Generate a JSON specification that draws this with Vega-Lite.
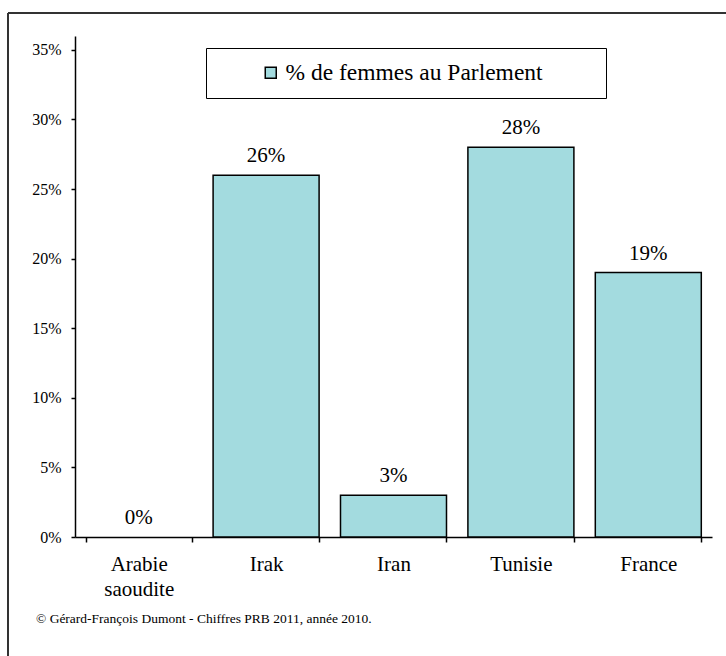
{
  "$schema": "https://vega.github.io/schema/vega-lite/v6.json",
  "autosize": {"type": "none"},
  "padding": {"left": 75, "top": 36, "right": 14, "bottom": 119},
  "width": 637,
  "height": 501,
  "background": "white",
  "config": {
    "view": {"stroke": null},
    "font": "Times New Roman"
  },
  "title": {
    "text": "© Gérard-François Dumont - Chiffres PRB 2011, année 2010.",
    "orient": "bottom",
    "anchor": "start",
    "frame": "group",
    "dx": -39,
    "offset": -45,
    "fontSize": 13.5,
    "fontWeight": "normal",
    "color": "#000000",
    "font": "Times New Roman"
  },
  "data": {
    "values": [
      {"pays": "Arabie saoudite", "valeur": 0.0, "serie": "% de femmes au Parlement"},
      {"pays": "Irak", "valeur": 0.26, "serie": "% de femmes au Parlement"},
      {"pays": "Iran", "valeur": 0.03, "serie": "% de femmes au Parlement"},
      {"pays": "Tunisie", "valeur": 0.28, "serie": "% de femmes au Parlement"},
      {"pays": "France", "valeur": 0.19, "serie": "% de femmes au Parlement"}
    ]
  },
  "resolve": {"scale": {"x": "independent", "y": "independent"}},
  "layer": [
    {
      "layer": [
        {
          "mark": {"type": "bar", "stroke": "#000000", "strokeWidth": 1.5},
          "encoding": {
            "x": {
              "field": "pays", "type": "nominal", "sort": null,
              "scale": {"paddingInner": 0.168, "paddingOuter": 0.084},
              "axis": {
                "title": null,
                "labelAngle": 0,
                "labelFont": "Times New Roman",
                "labelFontSize": 21,
                "labelColor": "#000000",
                "labelPadding": 11,
                "labelLineHeight": 25,
                "labelExpr": "datum.label == 'Arabie saoudite' ? ['Arabie', 'saoudite'] : datum.label",
                "tickBand": "extent",
                "tickSize": 5,
                "tickColor": "#000000",
                "tickWidth": 1.5,
                "domainColor": "#000000",
                "domainWidth": 1.5
              }
            },
            "y": {
              "field": "valeur", "type": "quantitative",
              "scale": {"domain": [0, 0.36], "nice": false},
              "axis": {
                "title": null,
                "values": [0, 0.05, 0.1, 0.15, 0.2, 0.25, 0.3, 0.35],
                "format": ".0%",
                "grid": false,
                "labelFont": "Times New Roman",
                "labelFontSize": 16,
                "labelColor": "#000000",
                "labelPadding": 10,
                "tickSize": 4,
                "tickColor": "#000000",
                "tickWidth": 1.5,
                "domainColor": "#000000",
                "domainWidth": 1.5
              }
            },
            "strokeOpacity": {"condition": {"test": "datum.valeur == 0", "value": 0}, "value": 1},
            "color": {
              "field": "serie", "type": "nominal",
              "scale": {"range": ["#a3dbdf"]},
              "legend": {
                "title": "\u00a0",
                "titleOrient": "right",
                "titlePadding": 50,
                "titleFontSize": 10,
                "orient": "none",
                "legendX": 131,
                "legendY": 12,
                "padding": 13,
                "fillColor": "white",
                "strokeColor": "#000000",
                "symbolType": "square",
                "symbolSize": 121,
                "symbolStrokeColor": "#000000",
                "symbolStrokeWidth": 1.5,
                "symbolOffset": 40,
                "labelOffset": 3,
                "labelFont": "Times New Roman",
                "labelFontSize": 23.5,
                "labelColor": "#000000",
                "labelLimit": 1000
              }
            }
          }
        },
        {
          "mark": {"type": "text", "baseline": "middle", "dy": -19, "fontSize": 21, "font": "Times New Roman", "color": "#000000"},
          "encoding": {
            "x": {"field": "pays", "type": "nominal", "sort": null},
            "y": {"field": "valeur", "type": "quantitative"},
            "text": {"field": "valeur", "type": "quantitative", "format": ".0%"}
          }
        }
      ]
    },
    {
      "mark": {"type": "rule", "stroke": "#333333", "strokeWidth": 1.3, "clip": false},
      "encoding": {
        "x": {"datum": -0.1052, "type": "quantitative", "scale": {"domain": [0, 1], "nice": false, "zero": false}, "axis": null},
        "x2": {"datum": 1.03},
        "y": {"datum": 1.0459, "type": "quantitative", "scale": {"domain": [0, 1], "nice": false, "zero": false}, "axis": null}
      }
    },
    {
      "mark": {"type": "rule", "stroke": "#333333", "strokeWidth": 1.3, "clip": false},
      "encoding": {
        "x": {"datum": -0.1052, "type": "quantitative", "scale": {"domain": [0, 1], "nice": false, "zero": false}, "axis": null},
        "y": {"datum": 1.0459, "type": "quantitative", "scale": {"domain": [0, 1], "nice": false, "zero": false}, "axis": null},
        "y2": {"datum": -0.2375}
      }
    }
  ]
}
